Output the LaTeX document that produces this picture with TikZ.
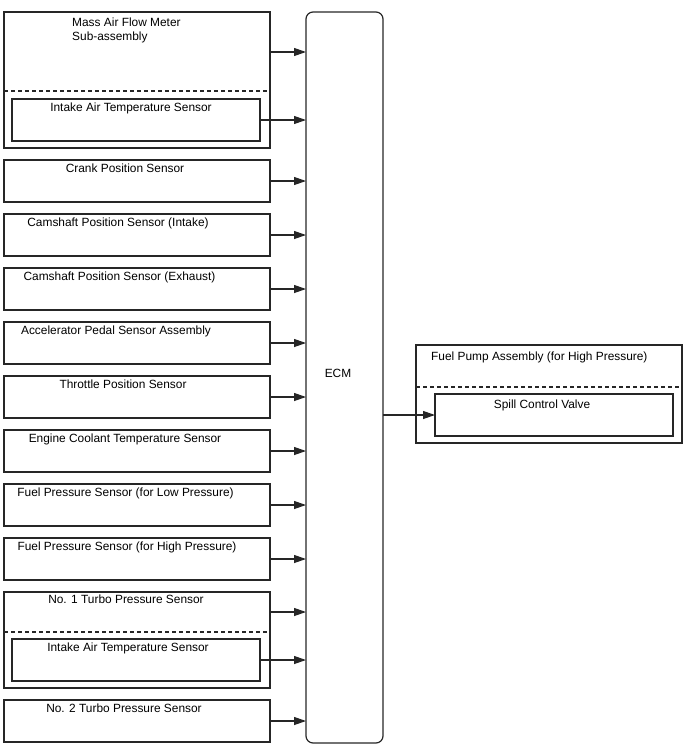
\documentclass[tikz,border=0pt]{standalone}
\usepackage{fontspec}
\setmainfont{Liberation Sans}
\usepackage{xcolor}
\definecolor{lineGray}{HTML}{262626}
\usetikzlibrary{arrows.meta,positioning}

\begin{document}
\begin{tikzpicture}[
			x=1pt, y=-1pt,
			node distance=12pt,
			every node/.style={font=\fontsize{11.9}{14}\selectfont},
			sensorbox/.style={rectangle, draw=lineGray, line width=1.2pt, minimum width=266pt,
				minimum height=42pt, inner sep=0pt, outer sep=0pt},
			innerbox/.style={sensorbox, minimum width=248pt},
			name text/.style={anchor=mid, inner sep=0pt},
			arrow/.style={-{Triangle[length=12pt, width=8pt]}, line width=1.2pt, lineGray},
			divider/.style={line width=1.2pt, lineGray, dash pattern=on 4pt off 3pt}
			]
			\useasboundingbox (0,0) rectangle (688,755);
			% ECM
			\node[rectangle, rounded corners=7pt, draw=lineGray, line width=1.2pt, minimum width=77pt,
				minimum height=731pt, outer sep=0pt] (ecm) at (344.5,377.5) {};
			\node (ecm-t) at (338,373) {ECM};
			% mass air flow meter
			\node[sensorbox, minimum height=136pt] (maf) at (137,80) {};
			\node[anchor=west, align=left, inner sep=0pt] (maf-t) at (72,30.5) {Mass Air Flow Meter\\Sub-assembly};
			\draw[divider] ([yshift=-79pt]maf.north west) -- ([yshift=-79pt]maf.north east);
			\node[innerbox, anchor=south] (maf-iat) at ([yshift=7pt, xshift=-1pt]maf.south) {};
			\node[name text] (maf-iat-t) at ([xshift=-5pt, yshift=-10pt]maf-iat.north) {Intake Air Temperature Sensor};
			\coordinate (maf-out) at ([yshift=-40pt]maf.north east);
			\draw[arrow] (maf-out) -- (maf-out -| ecm.west);
			\draw[arrow] (maf-iat.east) -- (maf-iat.east -| ecm.west);
			% single sensors
			\foreach \n/\t/\dx [remember=\n as \prev (initially maf)] in {
				crank/Crank Position Sensor/-12,
				camin/Camshaft Position Sensor (Intake)/-19,
				camex/Camshaft Position Sensor (Exhaust)/-17.5,
				accel/Accelerator Pedal Sensor Assembly/-21,
				tps/Throttle Position Sensor/-14,
				ect/Engine Coolant Temperature Sensor/-12,
				fpl/Fuel Pressure Sensor (for Low Pressure)/-11.5,
				fph/Fuel Pressure Sensor (for High Pressure)/-10}
			{
				\node[sensorbox, below=of \prev] (\n) {};
				\node[name text] (\n-t) at ([xshift=\dx pt, yshift=-10pt]\n.north) {\t};
				\draw[arrow] (\n.east) -- (\n.east -| ecm.west);
			}
			% turbo pressure sensors
			\node[sensorbox, minimum height=96pt, below=of fph] (turbo1) {};
			\node[name text] (turbo1-t) at ([xshift=-11pt, yshift=-9pt]turbo1.north) {No. 1 Turbo Pressure Sensor};
			\draw[divider] ([yshift=-40pt]turbo1.north west) -- ([yshift=-40pt]turbo1.north east);
			\node[innerbox, anchor=south] (turbo1-iat) at ([yshift=7pt, xshift=-1pt]turbo1.south) {};
			\node[name text] (turbo1-iat-t) at ([xshift=-8pt, yshift=-10pt]turbo1-iat.north) {Intake Air Temperature Sensor};
			\coordinate (turbo1-out) at ([yshift=-20pt]turbo1.north east);
			\draw[arrow] (turbo1-out) -- (turbo1-out -| ecm.west);
			\draw[arrow] (turbo1-iat.east) -- (turbo1-iat.east -| ecm.west);
			\node[sensorbox, below=of turbo1] (turbo2) {};
			\node[name text] (turbo2-t) at ([xshift=-13pt, yshift=-10pt]turbo2.north) {No. 2 Turbo Pressure Sensor};
			\draw[arrow] (turbo2.east) -- (turbo2.east -| ecm.west);
			% fuel pump
			\node[sensorbox, minimum height=98pt] (fpump) at (549,394) {};
			\node[anchor=west, inner sep=0pt] (fpump-t) at (431,357) {Fuel Pump Assembly (for High Pressure)};
			\draw[divider] ([yshift=-42pt]fpump.north west) -- ([yshift=-42pt]fpump.north east);
			\node[sensorbox, minimum width=238pt] (scv) at (554,415) {};
			\node[name text] (scv-t) at ([xshift=-12pt, yshift=-12pt]scv.north) {Spill Control Valve};
			\draw[arrow] (scv.west -| ecm.east) -- (scv.west);
		\end{tikzpicture}
\end{document}
